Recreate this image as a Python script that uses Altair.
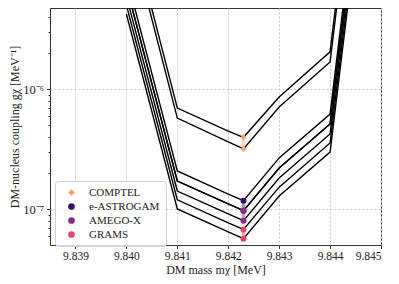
import altair as alt
import pandas as pd

# ---- data ----
x_mass = [9.840, 9.841, 9.842, 9.8423, 9.843, 9.844, 9.845]

comptel_hi = [3.12e-5, 6.98e-7, 4.49e-7, 3.98e-7, 8.63e-7, 2.05e-6, 6.47e-3]
comptel_lo = [2.58e-5, 5.76e-7, 3.64e-7, 3.18e-7, 7.12e-7, 1.69e-6, 5.34e-3]
eastrogam_hi = [8.79e-6, 2.09e-7, 1.34e-7, 1.18e-7, 2.68e-7, 6.22e-7, 1.97e-3]
eastrogam_lo = [7.26e-6, 1.72e-7, 1.11e-7, 9.73e-8, 2.21e-7, 5.14e-7, 1.62e-3]
amegox_hi = [7.26e-6, 1.72e-7, 1.11e-7, 9.73e-8, 2.21e-7, 5.14e-7, 1.62e-3]
amegox_lo = [5.99e-6, 1.42e-7, 9.14e-8, 8.04e-8, 1.82e-7, 4.24e-7, 1.34e-3]
grams_hi = [5.04e-6, 1.20e-7, 7.69e-8, 6.79e-8, 1.53e-7, 3.57e-7, 1.13e-3]
grams_lo = [4.24e-6, 1.006e-7, 6.47e-8, 5.69e-8, 1.29e-7, 3.00e-7, 9.50e-4]

experiments = ["COMPTEL", "e-ASTROGAM", "AMEGO-X", "GRAMS"]
exp_colors = ["#fe9f6d", "#3b0f70", "#8c2981", "#de4968"]
exp_shapes = ["diamond", "circle", "circle", "circle"]
point_mass = 9.8423
point_hi = [3.98e-7, 1.18e-7, 9.73e-8, 6.79e-8]
point_lo = [3.18e-7, 9.73e-8, 8.04e-8, 5.69e-8]

x_ticks = [9.839, 9.840, 9.841, 9.842, 9.843, 9.844, 9.845]
y_major = [1e-7, 1e-6]
y_minor = [6e-8, 7e-8, 8e-8, 9e-8,
           2e-7, 3e-7, 4e-7, 5e-7, 6e-7, 7e-7, 8e-7, 9e-7,
           2e-6, 3e-6, 4e-6]
x_domain = [9.8385, 9.845]
y_domain = [5.04e-8, 4.76e-6]

# ---- tables ----
curves = {
    "comptel_hi": comptel_hi, "comptel_lo": comptel_lo,
    "eastrogam_hi": eastrogam_hi, "eastrogam_lo": eastrogam_lo,
    "amegox_hi": amegox_hi, "amegox_lo": amegox_lo,
    "grams_hi": grams_hi, "grams_lo": grams_lo,
}
rows = []
for name, vals in curves.items():
    for i, (m, g) in enumerate(zip(x_mass, vals)):
        rows.append({"curve": name, "m": m, "g": g, "order": i})
lines_df = pd.DataFrame(rows)

prow = []
for e, hi, lo in zip(experiments, point_hi, point_lo):
    prow.append({"exp": e, "m": point_mass, "g": hi})
    prow.append({"exp": e, "m": point_mass, "g": lo})
pts_df = pd.DataFrame(prow)
rule_df = pd.DataFrame({"exp": experiments, "m": [point_mass] * 4,
                        "hi": point_hi, "lo": point_lo})

FONT = "Liberation Serif"
major_test = " || ".join(f"datum.value == {v}" for v in y_major)

xscale = alt.Scale(domain=x_domain, nice=False, zero=False)
yscale = alt.Scale(type="log", domain=y_domain, nice=False)

xaxis = alt.Axis(values=x_ticks, format=".3f", title="DM mass mχ [MeV]",
                 grid=True, gridDash=[2, 2], gridColor="#c8c8c8",
                 tickSize=3.5, tickColor="#333", domain=False,
                 labelFont=FONT, labelFontSize=11.5, labelColor="#222",
                 titleFont=FONT, titleFontSize=12, titleFontWeight="normal",
                 titleColor="#222", titleY=24, titleBaseline="middle",
                 labelPadding=2)
yaxis = alt.Axis(values=y_major + y_minor,
                 labelExpr="datum.value == 1e-6 ? '10⁻⁶' : (datum.value == 1e-7 ? '10⁻⁷' : '')",
                 title="DM-nucleus coupling gχ [MeV⁻¹]",
                 grid=True, gridDash=[2, 2], gridColor="#c8c8c8",
                 gridOpacity={"condition": {"test": major_test, "value": 1}, "value": 0},
                 tickSize={"condition": {"test": major_test, "value": 3.5}, "value": 2},
                 tickColor="#333", domain=False,
                 labelFont=FONT, labelFontSize=12.5, labelColor="#222",
                 titleFont=FONT, titleFontSize=12, titleFontWeight="normal",
                 titleColor="#222", titleX=-36, titleBaseline="middle",
                 labelPadding=3)

color_scale = alt.Scale(domain=experiments, range=exp_colors)
shape_scale = alt.Scale(domain=experiments, range=exp_shapes)

legend = alt.Legend(title=None, orient="none", legendX=5, legendY=173,
                    labelFont=FONT, labelFontSize=11, labelColor="#222",
                    symbolSize=45, rowPadding=2, symbolStrokeWidth=0,
                    symbolOpacity=1,
                    padding=6, fillColor="rgba(255,255,255,0.8)",
                    strokeColor="#d0d0d0", cornerRadius=3,
                    labelOffset=12, symbolOffset=5)

lines = alt.Chart(lines_df).mark_line(color="black", strokeWidth=1.4, clip=True).encode(
    x=alt.X("m:Q", scale=xscale, axis=xaxis),
    y=alt.Y("g:Q", scale=yscale, axis=yaxis),
    detail="curve:N",
    order="order:Q",
)

rules = alt.Chart(rule_df).mark_rule(strokeWidth=3.5, opacity=0.45).encode(
    x="m:Q", y="hi:Q", y2="lo:Q",
    color=alt.Color("exp:N", scale=color_scale, legend=legend),
)

points = alt.Chart(pts_df).mark_point(filled=True, opacity=1, size=36).encode(
    x="m:Q", y="g:Q",
    color=alt.Color("exp:N", scale=color_scale, legend=legend),
    shape=alt.Shape("exp:N", scale=shape_scale, legend=legend),
)

chart = alt.layer(lines, rules, points).properties(
    width=331, height=237,
    autosize=alt.AutoSizeParams(type="none"),
    padding={"left": 42, "top": 0, "right": 10, "bottom": 31},
).configure_view(stroke="#333", strokeWidth=1)

chart.save("out.html", embed_options={"renderer": "svg", "actions": False})
